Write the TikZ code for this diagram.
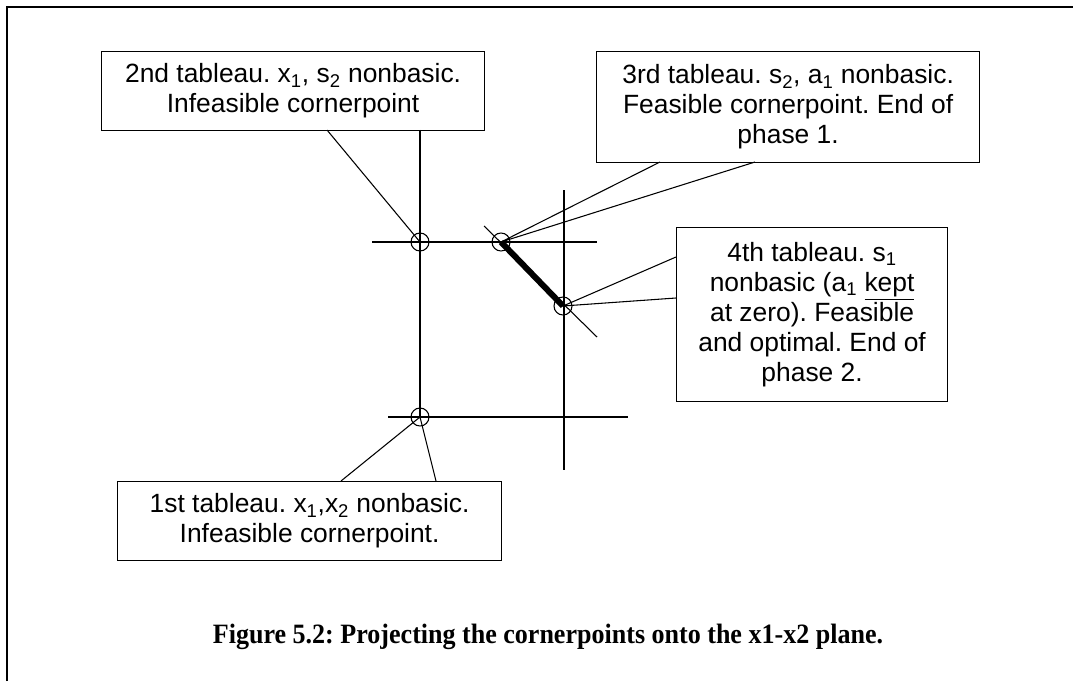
\documentclass[tikz,border=0pt]{standalone}
\usepackage{fontspec}
\usepackage{graphicx}
\setmainfont{Liberation Sans}
\newfontfamily\capfont{Liberation Serif}
\newlength\pix
\setlength\pix{0.75pt}
\frenchspacing
\tikzset{
  tabbox/.style={draw, line width=0.9pt, anchor=north west, align=center, inner sep=0pt,
    font=\fontsize{19.8}{22.5}\selectfont, execute at begin node={\rule{0pt}{19.5pt}}},
  corner/.style={draw, circle, line width=0.8pt, minimum size=18\pix, inner sep=0pt},
  thin line/.style={line width=0.8pt}
}

\begin{document}
\begin{tikzpicture}[x=0.75pt, y=-0.75pt]
\useasboundingbox (0,0) rectangle (1073,681);

\draw[line width=1.6pt] (7,681) -- (7,7) -- (1073,7);

\node[tabbox, minimum width=383\pix, minimum height=79\pix] (t2) at (101,51)
  {2nd tableau. x\textsubscript{1}, s\textsubscript{2} nonbasic.\\ Infeasible cornerpoint};
\node[tabbox, minimum width=383\pix, minimum height=111\pix] (t3) at (596,51)
  {3rd tableau. s\textsubscript{2}, a\textsubscript{1} nonbasic.\\ Feasible cornerpoint. End of\\ phase 1.};
\node[tabbox, minimum width=271\pix, minimum height=174\pix] (t4) at (676,227)
  {4th tableau. s\textsubscript{1}\\ nonbasic (a\textsubscript{1} \underline{kept}\\ at zero). Feasible\\ and optimal. End of\\ phase 2.};
\node[tabbox, minimum width=384\pix, minimum height=79\pix] (t1) at (117,481)
  {1st tableau. x\textsubscript{1},x\textsubscript{2} nonbasic.\\ Infeasible cornerpoint.};

\node[corner] (p1) at (420,417) {};
\node[corner] (p2) at (420,242) {};
\node[corner] (p3) at (501,242) {};
\node[corner] (p4) at (563,306) {};

\draw[thin line] (372,242) -- (597,242);
\draw[thin line] (388,417) -- (628,417);
\draw[thin line] (564,190) -- (564,470);
\draw[thin line] (484,226) -- (597,337);
\draw[line width=4.5pt] (p3.center) -- (p4.center);

\coordinate (c2a) at (327,130);
\coordinate (c2b) at (420,130);
\coordinate (c3a) at (660,162);
\coordinate (c3b) at (755,162);
\coordinate (c4a) at (676,257);
\coordinate (c4b) at (676,298);
\coordinate (c1a) at (341,481);
\coordinate (c1b) at (436,481);

\draw[thin line] (c2a) -- (p2.center);
\draw[thin line] (c2b) -- (p1.center);
\draw[thin line] (c3a) -- (p3.center) -- (c3b);
\draw[thin line] (c4a) -- (p4.center) -- (c4b);
\draw[thin line] (c1a) -- (p1.center) -- (c1b);

\node[font=\capfont\bfseries\fontsize{21}{24}\selectfont] (cap) at (548,637)
  {\scalebox{0.93}[1]{Figure 5.2: Projecting the cornerpoints onto the x1-x2 plane.}};
\end{tikzpicture}
\end{document}
